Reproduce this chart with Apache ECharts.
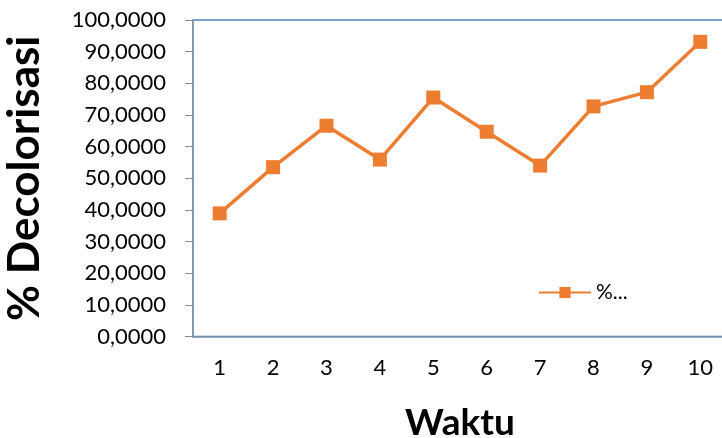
<!DOCTYPE html>
<html><head><meta charset="utf-8">
<script src="https://cdn.jsdelivr.net/npm/echarts@6/dist/echarts.min.js"></script>
<style>html,body{margin:0;padding:0;background:#fff}#c{width:722px;height:438px}</style>
</head><body><div id="c"></div>
<script>
const categories = ['1','2','3','4','5','6','7','8','9','10'];
const values = [38.9, 53.5, 66.6, 55.9, 75.5, 64.7, 54.0, 72.7, 77.2, 93.1];
const seriesName = '%...';
const yTitle = '% Decolorisasi';
const xTitle = 'Waktu';
const FONT = 'Lato';
const chart = echarts.init(document.getElementById('c'), null, {renderer:'canvas'});
chart.setOption({
  animation:false,
  backgroundColor:'#fff',
  grid:{left:193, top:20, right:-5, bottom:101.5, outerBoundsMode:'none', containLabel:false,
    show:true, borderColor:'#4F81BD', borderWidth:1.5, backgroundColor:'transparent'},
  legend:{left:533, top:277, itemWidth:52, itemHeight:14, itemGap:4, textStyle:{fontFamily:FONT, fontSize:21, color:'#000'}, data:[seriesName]},
  xAxis:{type:'category', data:categories, boundaryGap:true,
    name:xTitle, nameLocation:'middle', nameGap:68,
    nameTextStyle:{fontFamily:FONT, fontSize:37, fontWeight:'bold', color:'#000'},
    axisLine:{lineStyle:{color:'#8497B0', width:1.5}},
    axisTick:{show:false},
    axisLabel:{fontFamily:FONT, fontSize:22, color:'#000', margin:20},
    splitLine:{show:false}},
  yAxis:{type:'value', min:0, max:100, interval:10,
    name:yTitle, nameLocation:'middle', nameGap:146, nameRotate:90,
    nameTextStyle:{fontFamily:FONT, fontSize:44, fontWeight:'bold', color:'#000'},
    axisLine:{show:true, lineStyle:{color:'#8497B0', width:1.5}},
    axisTick:{show:true, length:8, lineStyle:{color:'#8C8C8C', width:1}},
    axisLabel:{fontFamily:FONT, fontSize:22, color:'#000', margin:27,
      formatter:v=>v.toFixed(4).replace('.',',')},
    splitLine:{show:false}},
  series:[{name:seriesName, type:'line', data:values, symbol:'rect', symbolSize:14,
    itemStyle:{color:'#ED7D31'}, lineStyle:{color:'#ED7D31', width:3.5}}]
});
</script></body></html>
